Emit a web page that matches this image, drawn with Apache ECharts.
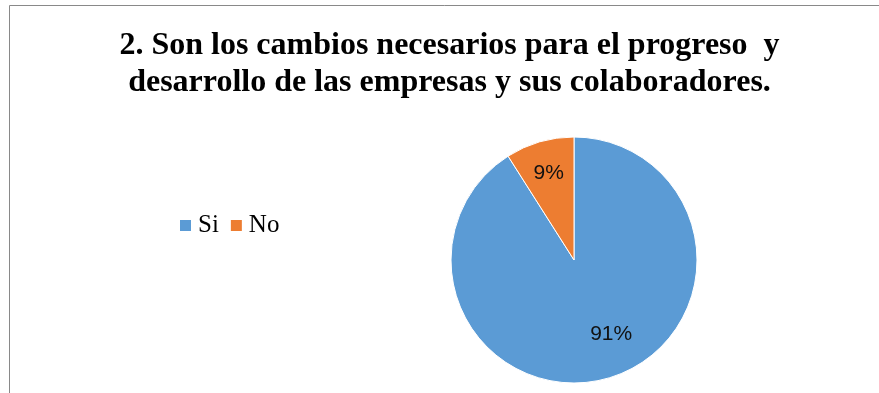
<!DOCTYPE html>
<html>
<head>
<meta charset="utf-8">
<script src="https://cdn.jsdelivr.net/npm/echarts@6/dist/echarts.min.js"></script>
<style>
  html, body { margin: 0; padding: 0; background: #fff; }
  #chart { width: 879px; height: 393px; }
</style>
</head>
<body>
<div id="chart"></div>
<script>
// Survey answers and their shares (percent)
const categories = ['Si', 'No'];
const shares = [91, 9];
const colors = ['#5B9BD5', '#ED7D31'];
const titleText = '2. Son los cambios necesarios para el progreso  y\ndesarrollo de las empresas y sus colaboradores.';

const pieData = categories.map((name, i) => ({ name, value: shares[i] }));

const chart = echarts.init(document.getElementById('chart'), null, { renderer: 'canvas' });

const R = 123;
const SERIF = "'Liberation Serif', 'Times New Roman', serif";

chart.setOption({
  animation: false,
  color: colors,
  graphic: [
    {
      // chart frame (its right and bottom edges fall outside the view)
      type: 'rect',
      shape: { x: 9.5, y: 5.5, width: 1000, height: 1000 },
      style: { fill: 'none', stroke: '#898989', lineWidth: 1 },
      silent: true,
      z: -10
    },
    {
      type: 'text',
      x: 449.5,
      y: 27,
      silent: true,
      style: {
        text: titleText,
        align: 'center',
        verticalAlign: 'top',
        fontFamily: SERIF,
        fontWeight: 'bold',
        fontSize: 32,
        lineHeight: 37,
        fill: '#000'
      }
    }
  ],
  legend: {
    data: categories,
    orient: 'horizontal',
    left: 178,
    top: 213,
    padding: 0,
    itemWidth: 13,
    itemHeight: 13,
    itemGap: 10,
    icon: 'rect',
    textStyle: {
      fontFamily: SERIF,
      fontSize: 25,
      color: '#000',
      padding: [0, 0, 0, 1]
    },
    selectedMode: false
  },
  series: [
    {
      type: 'pie',
      center: [574, 260],
      radius: [0, R],
      startAngle: 90,
      clockwise: true,
      label: { show: false },
      labelLine: { show: false },
      itemStyle: { borderColor: '#fff', borderWidth: 1 },
      emphasis: { disabled: true },
      data: pieData
    },
    {
      // transparent twin used only to place the percentage labels further out
      type: 'pie',
      center: [574, 260],
      radius: [0, R * 1.42],
      startAngle: 90,
      clockwise: true,
      silent: true,
      itemStyle: { color: 'rgba(0,0,0,0)' },
      emphasis: { disabled: true },
      labelLine: { show: false },
      label: {
        show: true,
        position: 'inside',
        formatter: '{d}%',
        fontFamily: 'Liberation Sans',
        fontSize: 21,
        color: '#111'
      },
      // the big slice's label sits a little towards the right
      labelLayout: (params) => params.dataIndex === 0 ? { dx: 12, dy: -13 } : {},
      data: pieData
    }
  ]
});
</script>
</body>
</html>
